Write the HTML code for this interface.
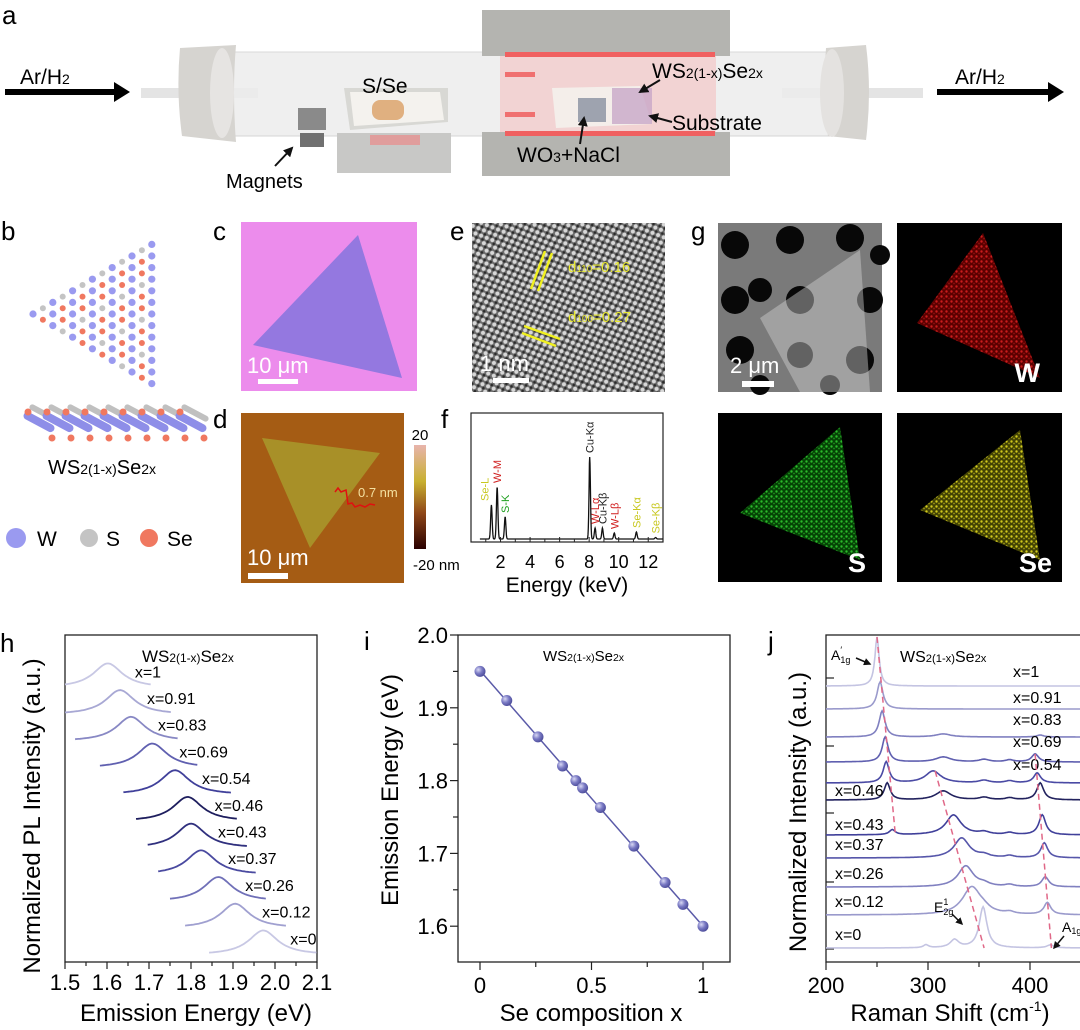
<!DOCTYPE html>
<html><head><meta charset="utf-8">
<style>
html,body{margin:0;padding:0;background:#fff;}
svg{display:block;font-family:"Liberation Sans",Arial,sans-serif;}
</style></head>
<body>
<svg id="fig" width="1080" height="1030" viewBox="0 0 1080 1030" xmlns="http://www.w3.org/2000/svg">
<defs>
  <linearGradient id="cbar" x1="0" y1="0" x2="0" y2="1">
    <stop offset="0" stop-color="#e8b4ac"/><stop offset="0.35" stop-color="#c8b030"/>
    <stop offset="0.65" stop-color="#904818"/><stop offset="1" stop-color="#2a0000"/>
  </linearGradient>
  <pattern id="latt" width="9" height="8" patternUnits="userSpaceOnUse" patternTransform="rotate(-20)">
    <rect width="9" height="8" fill="#6a6a6a"/>
    <circle cx="2.5" cy="2" r="2" fill="#d8d8d8"/><circle cx="7" cy="6" r="2" fill="#d8d8d8"/>
    <circle cx="6.5" cy="2" r="1.3" fill="#2a2a2a"/><circle cx="2.5" cy="6" r="1.3" fill="#2a2a2a"/>
  </pattern>
  <pattern id="spR" width="5" height="5" patternUnits="userSpaceOnUse"><rect width="5" height="5" fill="#600"/><circle cx="1.5" cy="1.5" r="1.2" fill="#e02020"/><circle cx="4" cy="3.5" r="0.9" fill="#a01010"/></pattern>
  <pattern id="spG" width="5" height="5" patternUnits="userSpaceOnUse"><rect width="5" height="5" fill="#064a06"/><circle cx="1.5" cy="1.5" r="1.2" fill="#30d030"/><circle cx="4" cy="3.5" r="0.9" fill="#20a020"/></pattern>
  <pattern id="spY" width="5" height="5" patternUnits="userSpaceOnUse"><rect width="5" height="5" fill="#4a4a04"/><circle cx="1.5" cy="1.5" r="1.2" fill="#e8e020"/><circle cx="4" cy="3.5" r="0.9" fill="#b0a818"/></pattern>
  <radialGradient id="ball" cx="0.35" cy="0.35" r="0.7"><stop offset="0" stop-color="#d8d8f4"/><stop offset="0.5" stop-color="#7a7ac4"/><stop offset="1" stop-color="#4a4a98"/></radialGradient>
  <marker id="ah" viewBox="0 0 10 10" refX="8" refY="5" markerWidth="5" markerHeight="5" orient="auto"><path d="M0,0L10,5L0,10z" fill="#111"/></marker>
</defs>

<!-- Panel a -->
<g>
  <text x="2" y="24" font-size="26">a</text>
  <line x1="5" y1="92" x2="118" y2="92" stroke="#000" stroke-width="6"/>
  <path d="M114,82 L130,92 L114,102z" fill="#000"/>
  <text x="20" y="84" font-size="21">Ar/H<tspan font-size="14">2</tspan></text>
  <line x1="937" y1="92" x2="1050" y2="92" stroke="#000" stroke-width="6"/>
  <path d="M1048,82 L1064,92 L1048,102z" fill="#000"/>
  <text x="955" y="84" font-size="21">Ar/H<tspan font-size="14">2</tspan></text>
  <rect x="141" y="88" width="117" height="10" fill="#e4e4e4"/>
  <rect x="782" y="88" width="141" height="10" fill="#e4e4e4"/>
  <rect x="210" y="52" width="630" height="84" fill="#ececec" opacity="0.85"/>
  <line x1="210" y1="52" x2="840" y2="52" stroke="#d8d8d8"/>
  <line x1="210" y1="136" x2="840" y2="136" stroke="#d4d4d4"/>
  <path d="M180,48 Q176,92 182,136 L236,142 Q232,92 236,45z" fill="#d6d4d0"/>
  <ellipse cx="222" cy="93" rx="12" ry="45" fill="#e6e4e2"/>
  <path d="M826,48 Q822,92 828,136 L866,140 Q872,92 866,45z" fill="#d6d4d0"/>
  <ellipse cx="832" cy="93" rx="12" ry="44" fill="#e4e2e0"/>
  <rect x="337" y="133" width="114" height="40" fill="#c8c8c6"/>
  <rect x="370" y="135" width="50" height="10" fill="#f08080" opacity="0.6"/>
  <path d="M344,88 L448,88 L448,122 L350,130z" fill="#d8d8d4"/>
  <path d="M350,92 L440,92 L444,120 L354,126z" fill="#f4f2ee"/>
  <rect x="372" y="100" width="32" height="20" rx="8" fill="#e0b080"/>
  <text x="362" y="93" font-size="21">S/Se</text>
  <rect x="298" y="108" width="28" height="22" fill="#8a8a8a"/>
  <rect x="300" y="133" width="24" height="14" fill="#707070"/>
  <text x="226" y="188" font-size="20">Magnets</text>
  <line x1="275" y1="166" x2="292" y2="148" stroke="#111" stroke-width="2" marker-end="url(#ah)"/>
  <rect x="482" y="10" width="248" height="46" fill="#b4b4b0"/>
  <rect x="482" y="132" width="248" height="44" fill="#b4b4b0"/>
  <rect x="500" y="56" width="216" height="76" fill="#f4c8c8" opacity="0.7"/>
  <rect x="505" y="52" width="210" height="5" fill="#f06060"/>
  <rect x="505" y="72" width="30" height="5" fill="#f07070"/>
  <rect x="505" y="112" width="30" height="5" fill="#f07070"/>
  <rect x="505" y="131" width="210" height="5" fill="#f06060"/>
  <path d="M552,88 L640,86 L652,124 L556,128z" fill="#f4eeea"/>
  <rect x="612" y="88" width="40" height="36" fill="#c8a8c8" opacity="0.8"/>
  <rect x="578" y="98" width="28" height="24" fill="#8890a0" opacity="0.8"/>
  <text x="652" y="78" font-size="21">WS<tspan font-size="14">2(1-x)</tspan>Se<tspan font-size="14">2x</tspan></text>
  <line x1="660" y1="80" x2="640" y2="92" stroke="#111" stroke-width="2" marker-end="url(#ah)"/>
  <text x="672" y="130" font-size="21">Substrate</text>
  <line x1="672" y1="122" x2="650" y2="116" stroke="#111" stroke-width="2" marker-end="url(#ah)"/>
  <text x="517" y="162" font-size="21">WO<tspan font-size="14">3</tspan>+NaCl</text>
  <line x1="580" y1="144" x2="584" y2="118" stroke="#111" stroke-width="2" marker-end="url(#ah)"/>
</g>

<!-- Panel b -->
<g>
  <text x="1" y="240" font-size="26">b</text>
  <g id="lattice"></g>
  <g id="sideview"></g>
  <text x="48" y="474" font-size="20">WS<tspan font-size="14">2(1-x)</tspan>Se<tspan font-size="14">2x</tspan></text>
  <g>
    <circle cx="16" cy="538" r="10" fill="#9a9af0"/>
    <text x="37" y="546" font-size="21">W</text>
    <circle cx="89" cy="538" r="9" fill="#c4c4c4"/>
    <text x="106" y="546" font-size="21">S</text>
    <circle cx="149" cy="538" r="9" fill="#f07860"/>
    <text x="167" y="546" font-size="21">Se</text>
  </g>
</g>

<!-- Panel c -->
<g>
  <text x="213" y="240" font-size="26">c</text>
  <rect x="241" y="222" width="176" height="169" fill="#ec8cec"/>
  <polygon points="358,235 253,345 402,378" fill="#9478e0"/>
  <rect x="258" y="379" width="40" height="5" fill="#fff"/>
  <text x="247" y="373" font-size="22" fill="#fff">10 μm</text>
</g>

<!-- Panel d -->
<g>
  <text x="213" y="428" font-size="26">d</text>
  <rect x="241" y="413" width="163" height="170" fill="#a55c14"/>
  <polygon points="262,438 380,453 310,548" fill="#a89028"/>
  <polyline points="335,492 338,488 341,492 346,490 348,504 352,503 355,507 360,505 365,507 370,504 375,505" fill="none" stroke="#e01010" stroke-width="1.5"/>
  <text x="358" y="497" font-size="13" fill="#f4e0a0">0.7 nm</text>
  <rect x="248" y="573" width="40" height="6" fill="#fff"/>
  <text x="247" y="565" font-size="22" fill="#fff">10 μm</text>
  <rect x="414" y="445" width="12" height="104" fill="url(#cbar)"/>
  <text x="420" y="440" font-size="15" text-anchor="middle">20</text>
  <text x="413" y="570" font-size="15">-20 nm</text>
</g>

<!-- Panel e -->
<g>
  <text x="450" y="240" font-size="26">e</text>
  <rect x="472" y="223" width="193" height="169" fill="url(#latt)"/>
  <line x1="531" y1="289" x2="545" y2="251" stroke="#f0f020" stroke-width="2.5"/>
  <line x1="538" y1="291" x2="552" y2="253" stroke="#f0f020" stroke-width="2.5"/>
  <text x="568" y="272" font-size="15" fill="#e8e830">d<tspan font-size="10">110</tspan>=0.16</text>
  <line x1="524" y1="326" x2="560" y2="339" stroke="#f0f020" stroke-width="2.5"/>
  <line x1="522" y1="333" x2="556" y2="346" stroke="#f0f020" stroke-width="2.5"/>
  <text x="568" y="322" font-size="15" fill="#e8e830">d<tspan font-size="10">100</tspan>=0.27</text>
  <rect x="493" y="378" width="36" height="5" fill="#fff"/>
  <text x="480" y="371" font-size="22" fill="#fff">1 nm</text>
</g>

<!-- Panel f -->
<g>
  <text x="441" y="428" font-size="26">f</text>
  <g id="fplot"></g>
</g>

<!-- Panel g -->
<g>
  <text x="691" y="240" font-size="26">g</text>
  <rect x="718" y="223" width="164" height="169" fill="#7a7a7a"/>
  <g id="holes"></g>
  <polygon points="760,318 860,250 870,392 800,392" fill="#d0d0d0" opacity="0.45"/>
  <rect x="742" y="381" width="32" height="6" fill="#fff"/>
  <text x="730" y="373" font-size="22" fill="#fff">2 μm</text>
  <rect x="897" y="223" width="165" height="169" fill="#000"/>
  <polygon points="917,323 983,233 1040,378" fill="url(#spR)" opacity="0.9"/>
  <text x="1040" y="382" font-size="27" font-weight="bold" fill="#fff" text-anchor="end">W</text>
  <rect x="718" y="413" width="164" height="169" fill="#000"/>
  <polygon points="740,513 840,427 860,560" fill="url(#spG)" opacity="0.9"/>
  <text x="866" y="572" font-size="27" font-weight="bold" fill="#fff" text-anchor="end">S</text>
  <rect x="897" y="413" width="165" height="169" fill="#000"/>
  <polygon points="920,510 1020,430 1040,560" fill="url(#spY)" opacity="0.9"/>
  <text x="1052" y="572" font-size="27" font-weight="bold" fill="#fff" text-anchor="end">Se</text>
</g>

<g id="hplot"></g>
<g id="iplot"></g>
<g id="jplot"></g>
</svg>

<script>
// ===== Panel h data =====
const hLabels = ['x=1','x=0.91','x=0.83','x=0.69','x=0.54','x=0.46','x=0.43','x=0.37','x=0.26','x=0.12','x=0'];
const hPeakE = [1.602,1.631,1.657,1.708,1.762,1.792,1.800,1.824,1.865,1.905,1.972];
const hStartE = [1.50,1.50,1.524,1.583,1.639,1.669,1.697,1.722,1.750,1.786,1.843];
const hEndE = [1.705,1.754,1.771,1.815,1.895,1.911,1.933,1.956,1.980,2.026,2.10];
const hOffset = [10,9,8,7,6,5,4,3,2,1,0];
const hTicks = [1.5,1.6,1.7,1.8,1.9,2.0,2.1];
const hTickLabels = ['1.5','1.6','1.7','1.8','1.9','2.0','2.1'];
const hColors = ['#c8c8e4','#a8a8d4','#8888c4','#6060b0','#40409a','#1e1e5e','#30307e','#4a4aa0','#7070b8','#a0a0d0','#c8c8e4'];

// ===== Panel i data =====
const iComp = [0,0.12,0.26,0.37,0.43,0.46,0.54,0.69,0.83,0.91,1];
const iEnergy = [1.95,1.91,1.86,1.82,1.80,1.79,1.763,1.71,1.66,1.63,1.60];
const iYTicks = [1.6,1.7,1.8,1.9,2.0];
const iYTickLabels = ['1.6','1.7','1.8','1.9','2.0'];
const iXTicks = [0,0.5,1];
const iXTickLabels = ['0','0.5','1'];

// ===== Panel j data =====
const jLabels = ['x=1','x=0.91','x=0.83','x=0.69','x=0.54','x=0.46','x=0.43','x=0.37','x=0.26','x=0.12','x=0'];
const jOffset = [26.2,23.9,21.1,18.6,16.5,14.8,11.3,9.0,6.1,3.3,0];
const jSePos = [250,253,255,258,259,260,265,268,270,270,270];
const jSeH = [4.9,2.7,2.6,2.5,2.1,1.7,0.5,0,0,0,0];
const jEPos = [320,320,315,315,305,315,325,333,337,343,354];
const jEH = [0,0,0.3,0.5,1.2,0.9,2.0,2.0,2.1,2.8,4.1];
const jAPos = [418,418,410,405,407,410,412,414,415,417,420];
const jAH = [0,0,0.2,0.8,1.0,1.7,2.0,1.5,1.0,1.2,0.3];
const jXTicks = [200,300,400];
const jXTickLabels = ['200','300','400'];
const jColors = ['#c4c4e2','#9a9acc','#8080c0','#6060b0','#4a4aa4','#22225e','#40409a','#5656aa','#8080c0','#9a9acc','#c4c4e2'];

// ===== Panel f data =====
const fPeakE = [1.38,1.77,2.31,8.04,8.40,8.90,9.70,11.2,12.5];
const fPeakH = [34,52,22,82,11,11,6,7,1.5];
const fLabels = ['Se-L','W-M','S-K','Cu-Kα','W-Lα','Cu-Kβ','W-Lβ','Se-Kα','Se-Kβ'];
const fLabelColors = ['#c8c820','#d02020','#20a020','#222','#d02020','#222','#d02020','#c8c820','#c8c820'];
const fTicks = [2,4,6,8,10,12];

const NS='http://www.w3.org/2000/svg';
function mk(parent, tag, attrs, text){
  const e=document.createElementNS(NS,tag);
  for(const k in attrs) e.setAttribute(k,attrs[k]);
  if(text!==undefined) e.textContent=text;
  parent.appendChild(e); return e;
}
function formula(parent,x,y,size,name){
  const t=mk(parent,'text',{x:x,y:y,'font-size':size});
  
  
  mk(t,'tspan',{},'WS'); mk(t,'tspan',{'font-size':size*0.7},'2(1-x)');
  mk(t,'tspan',{},'Se'); mk(t,'tspan',{'font-size':size*0.7},'2x');
}
function lor(x,c,g){return 1/(1+((x-c)/g)*((x-c)/g));}

// ===== b lattice =====
(function(){
  const g=document.getElementById('lattice');
  const cols=['#9a9af0','#c4c4c4','#f07860'];
  for(let j=0;j<=12;j++){
    const x=33+j*9.9;
    const n=j+1;
    for(let k=0;k<n;k++){
      const y=314-j*5.8+k*11.6;
      const type=(j%2===0)?0:(((j*3+k*5)%3===0)?1:2);
      const c=mk(g,'circle',{cx:x,cy:y,r:type===0?3.6:3,fill:cols[type]});
      
      
    }
  }
  const s=document.getElementById('sideview');
  for(let i=0;i<9;i++){
    const x=22+i*19;
    mk(s,'rect',{x:x,y:418,width:34,height:8,rx:4,fill:'#8e8ee8',transform:'rotate(28 '+(x+17)+' 422)'});
    mk(s,'rect',{x:x+6,y:410,width:30,height:6,rx:3,fill:'#c0c0c0',transform:'rotate(28 '+(x+21)+' 413)'});
    mk(s,'circle',{cx:x+6,cy:412,r:3.5,fill:'#f07860'});
    mk(s,'circle',{cx:x+30,cy:438,r:3.5,fill:'#f07860'});
  }
  const h=document.getElementById('holes');
  const hx=[735,790,850,735,760,800,870,740,800,860,880,760,830];
  const hy=[245,240,238,300,290,300,300,350,355,360,255,385,385];
  const hr=[14,14,14,14,12,14,13,14,13,14,10,10,10];
  for(let i=0;i<hx.length;i++){const c=mk(h,'circle',{cx:hx[i],cy:hy[i],r:hr[i],fill:'#080808'});
     }
})();

// ===== f chart =====
(function(){
  const g=document.getElementById('fplot');
  const X0=471,X1=663,Y0=413,Y1=542;
  const xF=e=>X0+(e/13)*(X1-X0);
  const yF=v=>539-v;
  mk(g,'rect',{x:X0,y:Y0,width:X1-X0,height:Y1-Y0,fill:'none',stroke:'#222','stroke-width':1.2});
  let d='';
  for(let e=0.6;e<=13;e+=0.02){
    let v=0; for(let i=0;i<fPeakE.length;i++) v+=fPeakH[i]*Math.exp(-Math.pow((e-fPeakE[i])/0.07,2));
    d+=(d?'L':'M')+xF(e).toFixed(1)+','+yF(v).toFixed(1);
  }
  const p=mk(g,'path',{d:d,fill:'none',stroke:'#111','stroke-width':1.3});
  
  
  for(let i=0;i<fLabels.length;i++){
    const x=xF(fPeakE[i])+(i===0?-3:4), y=yF(fPeakH[i])-4;
    const t=mk(g,'text',{x:x,y:y,'font-size':11,fill:fLabelColors[i],transform:'rotate(-90 '+x+' '+y+')'},fLabels[i]);
    
    
  }
  for(let e=0;e<=13;e++){mk(g,'line',{x1:xF(e),y1:Y1,x2:xF(e),y2:Y1-(e%2===0?5:3),stroke:'#222'});}
  fTicks.forEach(e=>{const t=mk(g,'text',{x:xF(e),y:568,'font-size':18,'text-anchor':'middle'},String(e));
     });
  const t=mk(g,'text',{x:567,y:592,'font-size':21,'text-anchor':'middle'},'Energy (keV)');
   
})();

// ===== h chart =====
(function(){
  const g=document.getElementById('hplot');
  const X0=65,X1=317,Y0=635,Y1=962;
  const xH=e=>X0+(e-1.5)/0.6*(X1-X0);
  const yH=v=>955-v*26.7;
  const lbl=mk(g,'text',{x:0,y:652,'font-size':26},'h');
   
  mk(g,'rect',{x:X0,y:Y0,width:X1-X0,height:Y1-Y0,fill:'none',stroke:'#222','stroke-width':1.3});
  formula(g,142,662,17,'h-formula-label');
  for(let i=0;i<hLabels.length;i++){
    let d='';
    for(let e=hStartE[i];e<=hEndE[i]+1e-9;e+=0.004){
      const v=hOffset[i]+0.92*lor(e,hPeakE[i],0.042);
      d+=(d?'L':'M')+xH(e).toFixed(1)+','+yH(v).toFixed(1);
    }
    const p=mk(g,'path',{d:d,fill:'none',stroke:hColors[i],'stroke-width':1.8});
    
    
    const t=mk(g,'text',{x:xH(hPeakE[i])+27,y:yH(hOffset[i]+0.4),'font-size':16},hLabels[i]);
    
    
  }
  for(let e=1.5;e<=2.1001;e+=0.05){
    const major=Math.abs(Math.round(e*10)-e*10)<1e-6;
    mk(g,'line',{x1:xH(e),y1:Y1,x2:xH(e),y2:Y1+(major?7:4),stroke:'#222','stroke-width':1.2});
  }
  hTicks.forEach((e,i)=>{const t=mk(g,'text',{x:xH(e),y:990,'font-size':22,'text-anchor':'middle'},hTickLabels[i]);
     });
  const xt=mk(g,'text',{x:(X0+X1)/2+5,y:1021,'font-size':24,'text-anchor':'middle'},'Emission Energy (eV)');
   
  const yt=mk(g,'text',{x:40,y:816,'font-size':24,'text-anchor':'middle',transform:'rotate(-90 40 816)'},'Normalized PL Intensity (a.u.)');
   
})();

// ===== i chart =====
(function(){
  const g=document.getElementById('iplot');
  const X0=458,X1=730,Y0=635,Y1=962;
  const xI=c=>480+c*223;
  const yI=v=>635+(2.0-v)/0.1*72.8;
  const lbl=mk(g,'text',{x:364,y:650,'font-size':26},'i');
   
  mk(g,'rect',{x:X0,y:Y0,width:X1-X0,height:Y1-Y0,fill:'none',stroke:'#222','stroke-width':1.3});
  for(let v=1.6;v<=2.0001;v+=0.05){
    const major=Math.abs(Math.round(v*10)-v*10)<1e-6;
    mk(g,'line',{x1:X0,y1:yI(v),x2:X0-(major?8:5),y2:yI(v),stroke:'#222','stroke-width':1.2});
  }
  iYTicks.forEach((v,i)=>{const t=mk(g,'text',{x:448,y:yI(v)+8,'font-size':22,'text-anchor':'end'},iYTickLabels[i]);
     });
  for(let c=0;c<=1.0001;c+=0.25){
    const major=Math.abs(c*2-Math.round(c*2))<1e-6;
    mk(g,'line',{x1:xI(c),y1:Y1,x2:xI(c),y2:Y1+(major?8:5),stroke:'#222','stroke-width':1.2});
  }
  iXTicks.forEach((c,i)=>{const t=mk(g,'text',{x:xI(c),y:993,'font-size':22,'text-anchor':'middle'},iXTickLabels[i]);
     });
  const n=iComp.length;
  let sx=0,sy=0,sxx=0,sxy=0;
  for(let k=0;k<n;k++){sx+=iComp[k];sy+=iEnergy[k];sxx+=iComp[k]*iComp[k];sxy+=iComp[k]*iEnergy[k];}
  const b=(n*sxy-sx*sy)/(n*sxx-sx*sx), a=(sy-b*sx)/n;
  const fit=mk(g,'line',{x1:xI(0),y1:yI(a),x2:xI(1),y2:yI(a+b),stroke:'#5a5aa8','stroke-width':1.5});
   
  for(let k=0;k<n;k++){
    const c=mk(g,'circle',{cx:xI(iComp[k]),cy:yI(iEnergy[k]),r:5.5,fill:'url(#ball)'});
    
    
  }
  formula(g,543,661,15,'i-formula-label');
  const xt=mk(g,'text',{x:591,y:1021,'font-size':24,'text-anchor':'middle'},'Se composition x');
   
  const yt=mk(g,'text',{x:398,y:790,'font-size':24,'text-anchor':'middle',transform:'rotate(-90 398 790)'},'Emission Energy (eV)');
   
})();

// ===== j chart =====
(function(){
  const g=document.getElementById('jplot');
  const X0=826,X1=1079,Y0=635,Y1=962;
  const xJ=w=>826+(w-200)*1.02;
  const yJ=v=>948-v*10;
  const lbl=mk(g,'text',{x:768,y:650,'font-size':26},'j');
   
  mk(g,'rect',{x:X0,y:Y0,width:X1-X0+5,height:Y1-Y0,fill:'none',stroke:'#222','stroke-width':1.3});
  [678,746,813,882,949].forEach(y=>mk(g,'line',{x1:X0,y1:y,x2:X0+8,y2:y,stroke:'#222','stroke-width':1.2}));
  for(let i=0;i<jLabels.length;i++){
    let d='';
    for(let w=200;w<=452;w+=1){
      let v=jOffset[i]+jSeH[i]*lor(w,jSePos[i],i===0?2.5:3.5)+jEH[i]*lor(w,jEPos[i],i===10?4.5:(i===9?11:9))+jAH[i]*lor(w,jAPos[i],4);
      if(i===10) v+=0.8*lor(w,326,5)+0.3*lor(w,298,3);
      if(i>=3&&i<=9) v+=0.25*lor(w,355,6)+0.2*lor(w,380,5);
      d+=(d?'L':'M')+xJ(w).toFixed(1)+','+yJ(v).toFixed(1);
    }
    const p=mk(g,'path',{d:d,fill:'none',stroke:jColors[i],'stroke-width':1.6});
    
    
    const lx=i<5?1013:835;
    const ly=i<5?[677,703,725,747,770][i]:yJ(jOffset[i])-(i===5?4:8)+ (i===6?3:0);
    const t=mk(g,'text',{x:lx,y:ly,'font-size':16},jLabels[i]);
    
    
  }
  const dl=[[250,26.2+4.9,268,11.3],[307,16.5+1.2,355,0],[405,18.6+0.8,421,0]];
  dl.forEach(L=>{const l=mk(g,'line',{x1:xJ(L[0]),y1:yJ(L[1]),x2:xJ(L[2]),y2:yJ(L[3]),stroke:'#e06888','stroke-width':1.5,'stroke-dasharray':'6,4'});
     });
  jXTicks.forEach((w,i)=>{
    mk(g,'line',{x1:xJ(w),y1:Y1,x2:xJ(w),y2:Y1+8,stroke:'#222','stroke-width':1.2});
    mk(g,'line',{x1:xJ(w+50),y1:Y1,x2:xJ(w+50),y2:Y1+5,stroke:'#222','stroke-width':1.2});
    const t=mk(g,'text',{x:xJ(w),y:993,'font-size':22,'text-anchor':'middle'},jXTickLabels[i]);
     
  });
  formula(g,900,662,16,'j-formula-label');
  const a1=mk(g,'text',{x:831,y:660,'font-size':14},'A');
   
  mk(a1,'tspan',{'font-size':9,dy:3},'1g'); mk(a1,'tspan',{'font-size':9,dx:-10,dy:-10},'\u2032');
  mk(g,'line',{x1:856,y1:658,x2:870,y2:664,stroke:'#111','stroke-width':1.5,'marker-end':'url(#ah)'});
  const e2=mk(g,'text',{x:934,y:912,'font-size':14},'E');
   
  mk(e2,'tspan',{'font-size':9,dy:3},'2g'); mk(e2,'tspan',{'font-size':9,dx:-10,dy:-10},'1');
  mk(g,'line',{x1:952,y1:914,x2:962,y2:924,stroke:'#111','stroke-width':1.5,'marker-end':'url(#ah)'});
  const a2=mk(g,'text',{x:1062,y:932,'font-size':14},'A');
   
  mk(a2,'tspan',{'font-size':9,dy:2},'1g');
  mk(g,'line',{x1:1064,y1:936,x2:1054,y2:948,stroke:'#111','stroke-width':1.5,'marker-end':'url(#ah)'});
  const xt=mk(g,'text',{x:950,y:1021,'font-size':24,'text-anchor':'middle'},'Raman Shift (cm');
   
  mk(xt,'tspan',{'font-size':14,dy:-10},'-1'); mk(xt,'tspan',{dy:10},')');
  const yt=mk(g,'text',{x:806,y:812,'font-size':24,'text-anchor':'middle',transform:'rotate(-90 806 812)'},'Normalized Intensity (a.u.)');
   
})();
</script>
</body></html>
